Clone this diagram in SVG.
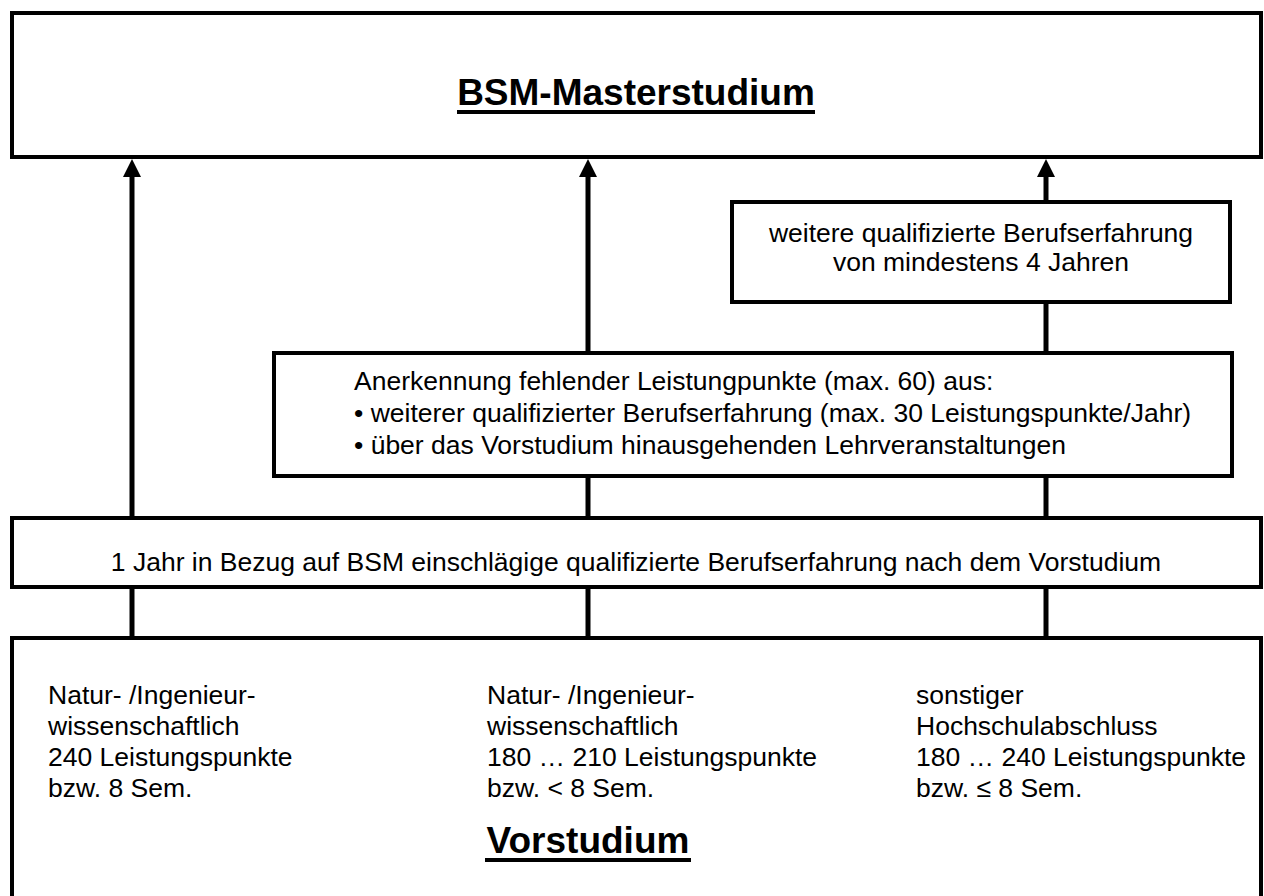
<svg xmlns="http://www.w3.org/2000/svg" width="1264" height="896" viewBox="0 0 1264 896">
<style>
.box{fill:#fff;stroke:#000;stroke-width:4}
.ln{stroke:#000;stroke-width:5;fill:none}
.ul{stroke:#000;stroke-width:4}
text{font-family:"Liberation Sans",Arial,sans-serif;fill:#000}
.t{font-size:26.5px}
.h{font-size:37px;font-weight:bold}
</style>
<rect width="1264" height="896" fill="#fff"/>
<g id="connectors">
<line class="ln" x1="132" y1="640" x2="132" y2="586"/>
<line class="ln" x1="132" y1="520" x2="132" y2="174"/>
<line class="ln" x1="588" y1="640" x2="588" y2="586"/>
<line class="ln" x1="588" y1="520" x2="588" y2="474"/>
<line class="ln" x1="588" y1="355" x2="588" y2="174"/>
<line class="ln" x1="1046" y1="640" x2="1046" y2="586"/>
<line class="ln" x1="1046" y1="520" x2="1046" y2="474"/>
<line class="ln" x1="1046" y1="355" x2="1046" y2="300"/>
<line class="ln" x1="1046" y1="204" x2="1046" y2="174"/>
<polygon points="132,159 123,177 141,177" fill="#000"/>
<polygon points="588,159 579,177 597,177" fill="#000"/>
<polygon points="1046,159 1037,177 1055,177" fill="#000"/>
</g>
<g id="master">
<rect class="box" x="12" y="13" width="1249" height="144"/>
<text class="h" x="636" y="105" text-anchor="middle">BSM-Masterstudium</text>
<line class="ul" x1="457" y1="112" x2="815" y2="112"/>
</g>
<g id="weitere">
<rect class="box" x="732" y="202" width="498" height="100"/>
<text class="t" x="981" y="242" text-anchor="middle">weitere qualifizierte Berufserfahrung</text>
<text class="t" x="981" y="271" text-anchor="middle">von mindestens 4 Jahren</text>
</g>
<g id="anerkennung">
<rect class="box" x="274" y="353" width="958" height="123"/>
<text class="t" x="354" y="390">Anerkennung fehlender Leistungpunkte (max. 60) aus:</text>
<text class="t" x="354" y="422">• weiterer qualifizierter Berufserfahrung (max. 30 Leistungspunkte/Jahr)</text>
<text class="t" x="354" y="454">• über das Vorstudium hinausgehenden Lehrveranstaltungen</text>
</g>
<g id="jahr">
<rect class="box" x="12" y="518" width="1249" height="69"/>
<text class="t" x="636" y="571" text-anchor="middle">1 Jahr in Bezug auf BSM einschlägige qualifizierte Berufserfahrung nach dem Vorstudium</text>
</g>
<g id="vorstudium">
<rect class="box" x="12" y="638" width="1249" height="300"/>
<text class="t" x="48" y="704">Natur- /Ingenieur-</text>
<text class="t" x="48" y="735">wissenschaftlich</text>
<text class="t" x="48" y="766">240 Leistungspunkte</text>
<text class="t" x="48" y="797">bzw. 8 Sem.</text>
<text class="t" x="487" y="704">Natur- /Ingenieur-</text>
<text class="t" x="487" y="735">wissenschaftlich</text>
<text class="t" x="487" y="766">180 … 210 Leistungspunkte</text>
<text class="t" x="487" y="797">bzw. &lt; 8 Sem.</text>
<text class="t" x="916" y="704">sonstiger</text>
<text class="t" x="916" y="735">Hochschulabschluss</text>
<text class="t" x="916" y="766">180 … 240 Leistungspunkte</text>
<text class="t" x="916" y="797">bzw. ≤ 8 Sem.</text>
<text class="h" x="588" y="853" text-anchor="middle">Vorstudium</text>
<line class="ul" x1="485" y1="860" x2="691" y2="860"/>
</g>
</svg>
